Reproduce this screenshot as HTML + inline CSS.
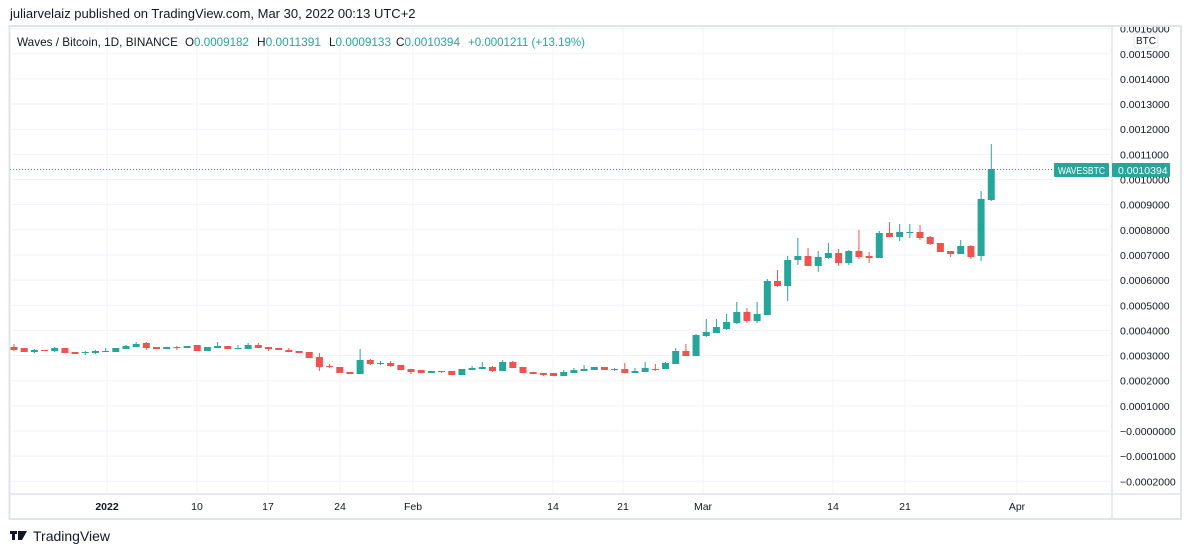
<!DOCTYPE html>
<html><head><meta charset="utf-8"><style>
body{margin:0;background:#fff;width:1191px;height:555px;overflow:hidden;font-family:"Liberation Sans",sans-serif;}
svg{position:absolute;left:0;top:0}
</style></head><body>
<svg id="s" width="1191" height="555" xmlns="http://www.w3.org/2000/svg" font-family="Liberation Sans, sans-serif">
<defs><clipPath id="cp"><rect x="1113" y="27" width="68" height="466"/></clipPath></defs>
<text x="10" y="18" font-size="13" fill="#131722">juliarvelaiz published on TradingView.com, Mar 30, 2022 00:13 UTC+2</text>
<rect x="9.5" y="26" width="1171.5" height="493" fill="none" stroke="#e0e3eb" stroke-width="2"/>
<line x1="1112" y1="26" x2="1112" y2="519" stroke="#e0e3eb" stroke-width="1.5"/>
<line x1="9" y1="494" x2="1181" y2="494" stroke="#e0e3eb" stroke-width="1.5"/>
<g id="grid"></g>
<g id="ax" clip-path="url(#cp)"></g>
<g id="c"></g>
<g font-size="12" fill="#131722">
<text x="17" y="46" textLength="161" lengthAdjust="spacingAndGlyphs">Waves / Bitcoin, 1D, BINANCE</text>
<text x="185" y="46" textLength="64" lengthAdjust="spacingAndGlyphs">O<tspan fill="#26a69a">0.0009182</tspan></text>
<text x="257" y="46" textLength="64" lengthAdjust="spacingAndGlyphs">H<tspan fill="#26a69a">0.0011391</tspan></text>
<text x="329" y="46" textLength="62" lengthAdjust="spacingAndGlyphs">L<tspan fill="#26a69a">0.0009133</tspan></text>
<text x="396" y="46" textLength="64" lengthAdjust="spacingAndGlyphs">C<tspan fill="#26a69a">0.0010394</tspan></text>
<text x="468" y="46" fill="#26a69a" textLength="117" lengthAdjust="spacingAndGlyphs">+0.0001211 (+13.19%)</text>
</g>
<rect x="1134" y="33" width="24" height="15" rx="3" fill="#fff" stroke="#e0e3eb"/>
<text x="1146" y="44" font-size="10" fill="#131722" text-anchor="middle">BTC</text>
<line x1="10" y1="169.5" x2="1054" y2="169.5" stroke="#26a69a" stroke-dasharray="1,2"/>
<rect x="1054" y="163" width="55" height="14" rx="1" fill="#26a69a"/>
<text x="1058" y="174" font-size="10" fill="#fff" textLength="47" lengthAdjust="spacingAndGlyphs">WAVESBTC</text>
<rect x="1112" y="163" width="58" height="14" rx="1" fill="#26a69a"/>
<text x="1118" y="174" font-size="10.5" fill="#fff">0.0010394</text>
<g fill="#131722"><rect x="10" y="531" width="7" height="3"/><rect x="12" y="531" width="3" height="9"/><rect x="18" y="531" width="3" height="9"/><path d="M21 531 L27 531 L22 540 L19 540Z"/></g>
<text x="33" y="541" font-size="14" fill="#131722">TradingView</text>
</svg>
<script>
var ns="http://www.w3.org/2000/svg";
function el(p,t,a,txt){var e=document.createElementNS(ns,t);for(var k in a)e.setAttribute(k,a[k]);if(txt)e.textContent=txt;p.appendChild(e);return e;}
var g=document.getElementById('grid'),ax=document.getElementById('ax');
var vx=[107,197,268,340,413,553,623,703,833,905,1017];
var vl=['2022','10','17','24','Feb','14','21','Mar','14','21','Apr'];
vx.forEach(function(x,i){el(g,'line',{x1:x,y1:27,x2:x,y2:493,stroke:'#f0f3fa'});
el(g,'text',{x:x,y:510,'font-size':10.5,fill:'#131722','text-anchor':'middle','font-weight':i==0?'bold':'normal'},vl[i]);});
for(var i=-2;i<=16;i++){var y=431-i*25.15;
 if(y>27&&y<493)el(g,'line',{x1:10,y1:y,x2:1112,y2:y,stroke:'#f0f3fa'});
 var v=(Math.abs(i)/10000).toFixed(7);var lab=(i<=0)?'\u2212'+v:v;
 el(ax,'text',{x:1120,y:y+4,'font-size':10.5,fill:'#131722'},lab);}
var d=[[347,350,344,351],[348,352],[352,350,349,353],[350,351],[351,348,347,352],[348,353],[352,354],[353,352,351,355],[353,351,350,354],[352,351,348,352],[352,348],[349,346,345,349],[347,344,342,347],[343,348,342,350],[347,349],[349,347],[347,348,346,350],[348,346],[345,351],[351,347],[348,346,342,348],[346,349],[349,348,345,349],[349,345,343,349],[345,348,343,348],[347,349,347,351],[348,350],[350,352,348,352],[351,353],[352,358],[357,367,353,371],[366,367,364,368],[367,373],[372,374],[374,360,349,374],[360,364,359,365],[364,363,361,365],[363,366,361,367],[365,370],[369,372,369,374],[370,373],[373,371],[371,372,371,373],[371,375],[375,369],[370,368,366,370],[369,367,362,369],[367,371,366,372],[371,362,360,371],[362,368,361,368],[367,373],[372,374],[373,375,373,376],[373,376],[376,372,370,376],[373,370,368,373],[371,369,365,371],[370,367],[367,370],[370,369,368,371],[369,373,363,373],[373,371,368,373],[372,368,362,372],[369,369.5,364,371],[369,363,362,369],[364,351,348,364],[351,356,344,356],[356,335,334,356],[336,332,319,337],[333,327,319,333],[329,322,314,330],[323,312,302,324],[312,321,308,323],[321,314,302,323],[315,281,279,315],[281,286,270,287],[286,260,256,301],[260,256,238,265],[256,266,248,266],[266,257,251,272],[258,253,243,259],[253,263,249,266],[263,251,250,265],[251,257,230,259],[256,258,252,263],[258,233,231,258],[233,237,222,237],[237,232,224,241],[233,232,224,238],[232,238,225,240],[237,244,236,245],[243,252],[251,254,251,257],[254,246,240,254],[246,257,245,259],[256,199,191,261],[200,169,144,201]];
var c=document.getElementById('c');
d.forEach(function(k,i){var x=14+i*10.18;var o=k[0],cl=k[1],h=k.length>2?k[2]:Math.min(o,cl),l=k.length>2?k[3]:Math.max(o,cl);
var col=cl<o?'#26a69a':'#ef5350';
el(c,'line',{x1:x,y1:h,x2:x,y2:l,stroke:col,'stroke-width':1});
var t=Math.min(o,cl),hh=Math.max(1,Math.abs(o-cl));
el(c,'rect',{x:x-3.5,y:t,width:7,height:hh,fill:col});});
</script>
</body></html>
